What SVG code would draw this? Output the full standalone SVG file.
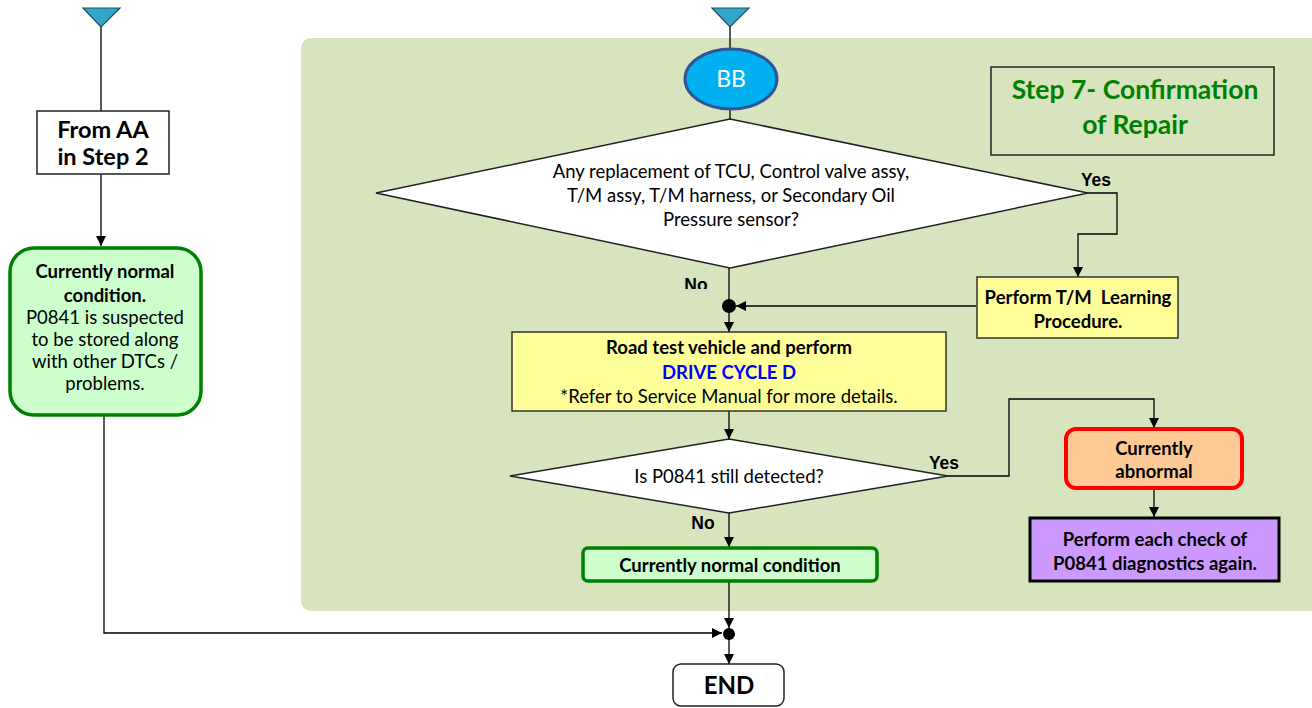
<svg xmlns="http://www.w3.org/2000/svg" width="1312" height="708" viewBox="0 0 1312 708">
  <style>
    .t { font-family: Lato, "Liberation Sans", sans-serif; fill: #000; text-anchor: middle; }
    .b { font-weight: bold; }
    .lbl { font-family: "Liberation Sans", Arial, sans-serif; font-weight: bold; font-size: 17.5px; fill: #000; text-anchor: middle; }
    .box { fill: #ffffff; stroke: #222; stroke-width: 1.5; }
    .yel { fill: #ffff99; stroke: #333; stroke-width: 1.5; }
    .grn { fill: #ccffcc; stroke: #008000; stroke-width: 3.5; }
    .dia { fill: #ffffff; stroke: #222; stroke-width: 1.5; }
    .tri { fill: #33a6cc; stroke: #1f4e5f; stroke-width: 1.2; }
    .wire { fill: none; stroke: #000; stroke-width: 1.3; }
  </style>
  <defs>
    <marker id="arrow" viewBox="0 0 10 10" refX="10" refY="5" markerWidth="10" markerHeight="10" markerUnits="userSpaceOnUse" orient="auto">
      <path d="M0,0 L10,5 L0,10 z" fill="#000"/>
    </marker>
    <clipPath id="noClip">
      <rect x="670" y="270" width="60" height="19"/>
    </clipPath>
  </defs>

  <!-- Step 7 panel background -->
  <rect x="301" y="38" width="1020" height="573" rx="10" fill="#d7e4bd"/>

  <!-- connectors -->
  <g id="connectors">
    <path class="wire" d="M101,27 V111"/>
    <path class="wire" d="M101,174 V246" marker-end="url(#arrow)"/>
    <path class="wire" d="M104,415 V633 H722" marker-end="url(#arrow)"/>
    <path class="wire" d="M730,27 V49"/>
    <path class="wire" d="M730,110 V119"/>
    <path class="wire" d="M729,268 V306"/>
    <path class="wire" d="M1088,193 H1117 V234 H1078 V277" marker-end="url(#arrow)"/>
    <path class="wire" d="M976,306 H736" marker-end="url(#arrow)"/>
    <path class="wire" d="M729,306 V332" marker-end="url(#arrow)"/>
    <path class="wire" d="M729,411 V439" marker-end="url(#arrow)"/>
    <path class="wire" d="M948,476 H1009 V399 H1154 V428" marker-end="url(#arrow)"/>
    <path class="wire" d="M1154,488 V517" marker-end="url(#arrow)"/>
    <path class="wire" d="M729,513 V547" marker-end="url(#arrow)"/>
    <path class="wire" d="M729,581 V628" marker-end="url(#arrow)"/>
    <path class="wire" d="M729,634 V664" marker-end="url(#arrow)"/>
    <circle cx="729" cy="306" r="7" fill="#000"/>
    <circle cx="729" cy="634" r="6" fill="#000"/>
    <text class="lbl" x="1096" y="186">Yes</text>
    <text class="lbl" x="944" y="469">Yes</text>
    <text class="lbl" x="696" y="291" clip-path="url(#noClip)">No</text>
    <text class="lbl" x="703" y="529">No</text>
  </g>

  <!-- off-page connector into the left branch -->
  <g id="offpage-left">
    <polygon class="tri" points="83,8 120,8 101,27"/>
  </g>

  <g id="from-aa">
    <rect class="box" x="37" y="111" width="132" height="63"/>
    <text class="t b" x="103" y="138" font-size="23.5">From AA</text>
    <text class="t b" x="103" y="165" font-size="23.5">in Step 2</text>
  </g>

  <g id="normal-suspected">
    <rect class="grn" x="10" y="248" width="191" height="167" rx="24"/>
    <g class="t" font-size="18.5">
      <text class="b" x="105" y="278">Currently normal</text>
      <text class="b" x="105" y="302">condition.</text>
      <text x="105" y="324">P0841 is suspected</text>
      <text x="105" y="346">to be stored along</text>
      <text x="105" y="368">with other DTCs /</text>
      <text x="105" y="390">problems.</text>
    </g>
  </g>

  <!-- off-page connector into BB -->
  <g id="offpage-bb">
    <polygon class="tri" points="712,8 749,8 730,27"/>
  </g>

  <g id="bb">
    <ellipse cx="731" cy="79" rx="46" ry="30" fill="#00b0f0" stroke="#2f5597" stroke-width="3"/>
    <text class="t" x="731" y="87" font-size="23" style="fill:#fff">BB</text>
  </g>

  <g id="step7-title">
    <rect x="991" y="67" width="283" height="88" fill="none" stroke="#222" stroke-width="1.5"/>
    <text class="t b" x="1135" y="99" font-size="26.5" style="fill:#008000">Step 7- Confirmation</text>
    <text class="t b" x="1135" y="134" font-size="26.5" style="fill:#008000">of Repair</text>
  </g>

  <g id="replacement-check">
    <polygon class="dia" points="730,119 1088,193 730,268 376,193"/>
    <g class="t" font-size="18.5">
      <text x="731" y="178">Any replacement of TCU, Control valve assy,</text>
      <text x="731" y="202">T/M assy, T/M harness, or Secondary Oil</text>
      <text x="731" y="226">Pressure sensor?</text>
    </g>
  </g>

  <g id="tm-learning">
    <rect class="yel" x="977" y="277" width="201" height="61"/>
    <text class="t b" x="1078" y="304" font-size="18.5" xml:space="preserve">Perform T/M  Learning</text>
    <text class="t b" x="1078" y="328" font-size="18.5">Procedure.</text>
  </g>

  <g id="road-test">
    <rect class="yel" x="512" y="332" width="434" height="79"/>
    <text class="t b" x="729" y="354" font-size="18.5">Road test vehicle and perform</text>
    <text class="t b" x="729" y="379" font-size="18.5" style="fill:#0000ff">DRIVE CYCLE D</text>
    <text class="t" x="729" y="403" font-size="18.5">*Refer to Service Manual for more details.</text>
  </g>

  <g id="still-detected">
    <polygon class="dia" points="729,439 948,476 729,513 510,476"/>
    <text class="t" x="729" y="483" font-size="18.5">Is P0841 still detected?</text>
  </g>

  <g id="normal-condition">
    <rect class="grn" x="583" y="548" width="294" height="33" rx="5"/>
    <text class="t b" x="730" y="572" font-size="18.5">Currently normal condition</text>
  </g>

  <g id="abnormal">
    <rect x="1066" y="429" width="176" height="59" rx="10" fill="#fdc994" stroke="#ff0000" stroke-width="4"/>
    <text class="t b" x="1154" y="455" font-size="18.5">Currently</text>
    <text class="t b" x="1154" y="478" font-size="18.5">abnormal</text>
  </g>

  <g id="recheck">
    <rect x="1030" y="518" width="249" height="63" fill="#cc99ff" stroke="#000" stroke-width="3"/>
    <text class="t b" x="1155" y="546" font-size="18.5">Perform each check of</text>
    <text class="t b" x="1155" y="570" font-size="18.5">P0841 diagnostics again.</text>
  </g>

  <g id="end">
    <rect class="box" x="673" y="664" width="111" height="42" rx="8"/>
    <text class="t b" x="729" y="694" font-size="24">END</text>
  </g>
</svg>
